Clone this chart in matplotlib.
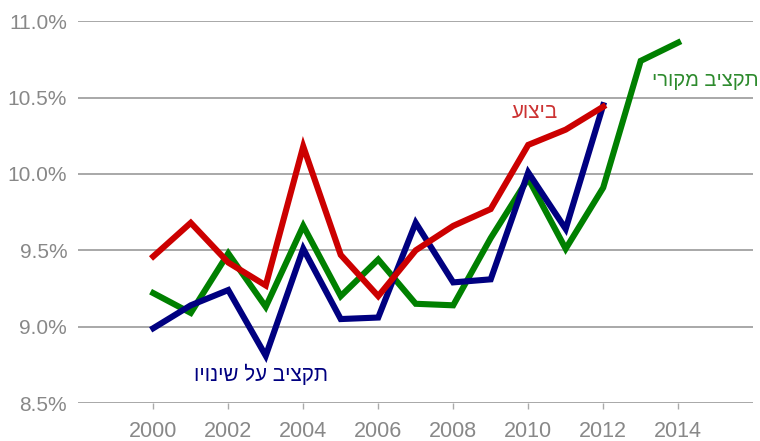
import matplotlib.pyplot as plt
from matplotlib.ticker import FuncFormatter

plt.rcParams['font.family'] = ['Liberation Sans', 'DejaVu Sans']

years = list(range(2000, 2015))
# ביצוע (execution), 2000-2012
actual = [9.46, 9.68, 9.42, 9.27, 10.18, 9.47, 9.20, 9.50, 9.66, 9.77, 10.19, 10.29, 10.44]
# תקציב על שינויו (revised budget), 2000-2012
revised = [8.99, 9.14, 9.24, 8.81, 9.51, 9.05, 9.06, 9.68, 9.29, 9.31, 10.01, 9.64, 10.45]
# תקציב מקורי (original budget), 2000-2014
original = [9.22, 9.09, 9.48, 9.13, 9.66, 9.20, 9.44, 9.15, 9.14, 9.58, 9.97, 9.51, 9.91, 10.74, 10.86]

label_actual = 'ביצוע'
label_revised = 'תקציב על שינויו'
label_original = 'תקציב מקורי'


def rtl(s):
    # matplotlib lays text out left-to-right, so flip Hebrew for display
    return s[::-1]


fig = plt.figure(figsize=(7.6, 4.41), dpi=100)
ax = fig.add_axes([0.103, 0.086, 0.888, 0.866])

lw = 4.4
ax.plot(years[:len(original)], original, color='#008000', lw=lw, solid_joinstyle='miter', zorder=3)
ax.plot(years[:len(revised)], revised, color='#000080', lw=lw, solid_joinstyle='miter', zorder=4)
ax.plot(years[:len(actual)], actual, color='#cc0000', lw=lw, solid_joinstyle='miter', zorder=5)

ax.set_xlim(1998, 2016)
ax.set_ylim(8.5, 11.0)
ax.set_yticks([8.5, 9.0, 9.5, 10.0, 10.5, 11.0])
ax.yaxis.set_major_formatter(FuncFormatter(lambda v, p: f'{v:.1f}%'))
ax.set_xticks(range(2000, 2015, 2))

ax.grid(axis='y', color='#999999', lw=1.2)
ax.set_axisbelow(True)
for s in ax.spines.values():
    s.set_visible(False)

ax.tick_params(axis='y', length=0, labelsize=15, labelcolor='#888888', pad=8)
ax.tick_params(axis='x', length=4, width=1, color='#aaaaaa', labelsize=15.5,
               labelcolor='#888888', pad=9)

ax.text(2010.8, 10.40, rtl(label_actual), color='#cc3333', fontsize=14.8,
        ha='right', va='center')
ax.text(2016.15, 10.61, rtl(label_original), color='#2e8b2e', fontsize=14.5,
        ha='right', va='center', clip_on=False)
ax.text(2002.87, 8.69, rtl(label_revised), color='#000080', fontsize=14.8,
        ha='center', va='center')

fig.savefig('out.png', dpi=100)
